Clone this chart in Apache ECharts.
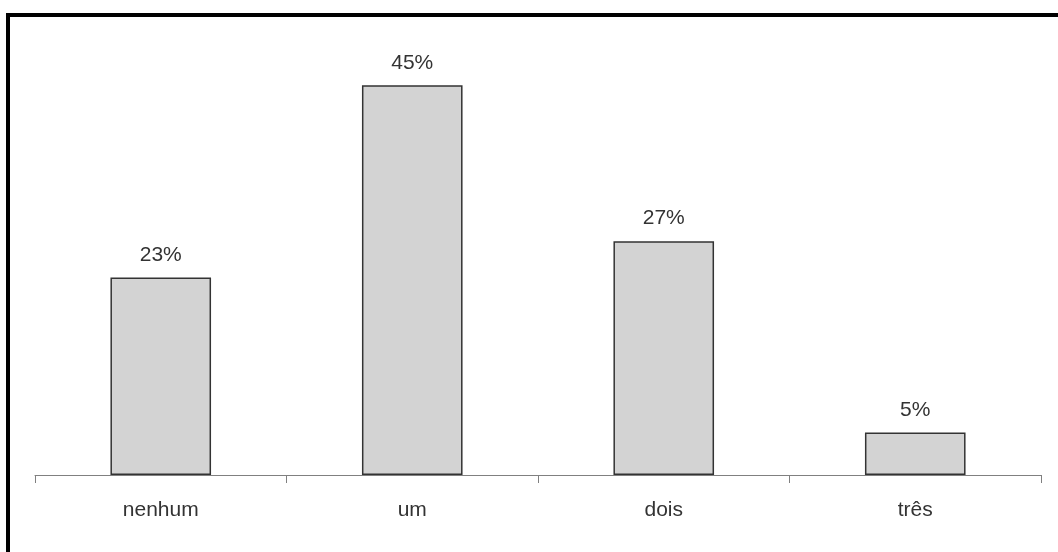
<!DOCTYPE html>
<html>
<head>
<meta charset="utf-8">
<script src="https://cdn.jsdelivr.net/npm/echarts@6/dist/echarts.min.js"></script>
<style>
html,body{margin:0;padding:0;background:#fff;}
#frame{position:absolute;left:0;top:0;width:1058px;height:552px;}
#border{position:absolute;left:6px;top:13px;width:1052px;height:539px;border-left:4px solid #000;border-top:4px solid #000;box-sizing:border-box;pointer-events:none;}
#chart{position:absolute;left:0;top:0;width:1058px;height:552px;}
</style>
</head>
<body>
<div id="frame">
<div id="chart"></div>
<div id="border"></div>
</div>
<script>
const categories = ['nenhum', 'um', 'dois', 'três'];
const values = [22.8, 45, 27, 4.9];

const chart = echarts.init(document.getElementById('chart'), null, {renderer: 'canvas'});
chart.setOption({
  animation: false,
  backgroundColor: '#ffffff',
  grid: {left: 35, right: 17, top: 42, bottom: 77},
  xAxis: {
    type: 'category',
    data: categories,
    boundaryGap: true,
    axisLine: {lineStyle: {color: '#808080', width: 1}},
    axisTick: {show: true, length: 8, lineStyle: {color: '#808080'}},
    axisLabel: {color: '#333333', fontSize: 21, fontFamily: 'Liberation Sans, Arial, sans-serif', margin: 25}
  },
  yAxis: {
    type: 'value',
    min: 0,
    max: 50,
    show: false,
    splitLine: {show: false}
  },
  series: [{
    type: 'bar',
    data: values,
    barWidth: '40%',
    itemStyle: {color: '#d3d3d3', borderColor: '#333333', borderWidth: 1.5},
    label: {
      show: true,
      position: 'top',
      distance: 12,
      color: '#333333',
      fontSize: 21,
      fontFamily: 'Liberation Sans, Arial, sans-serif',
      formatter: p => Math.round(p.value) + '%'
    }
  }]
});
</script>
</body>
</html>
